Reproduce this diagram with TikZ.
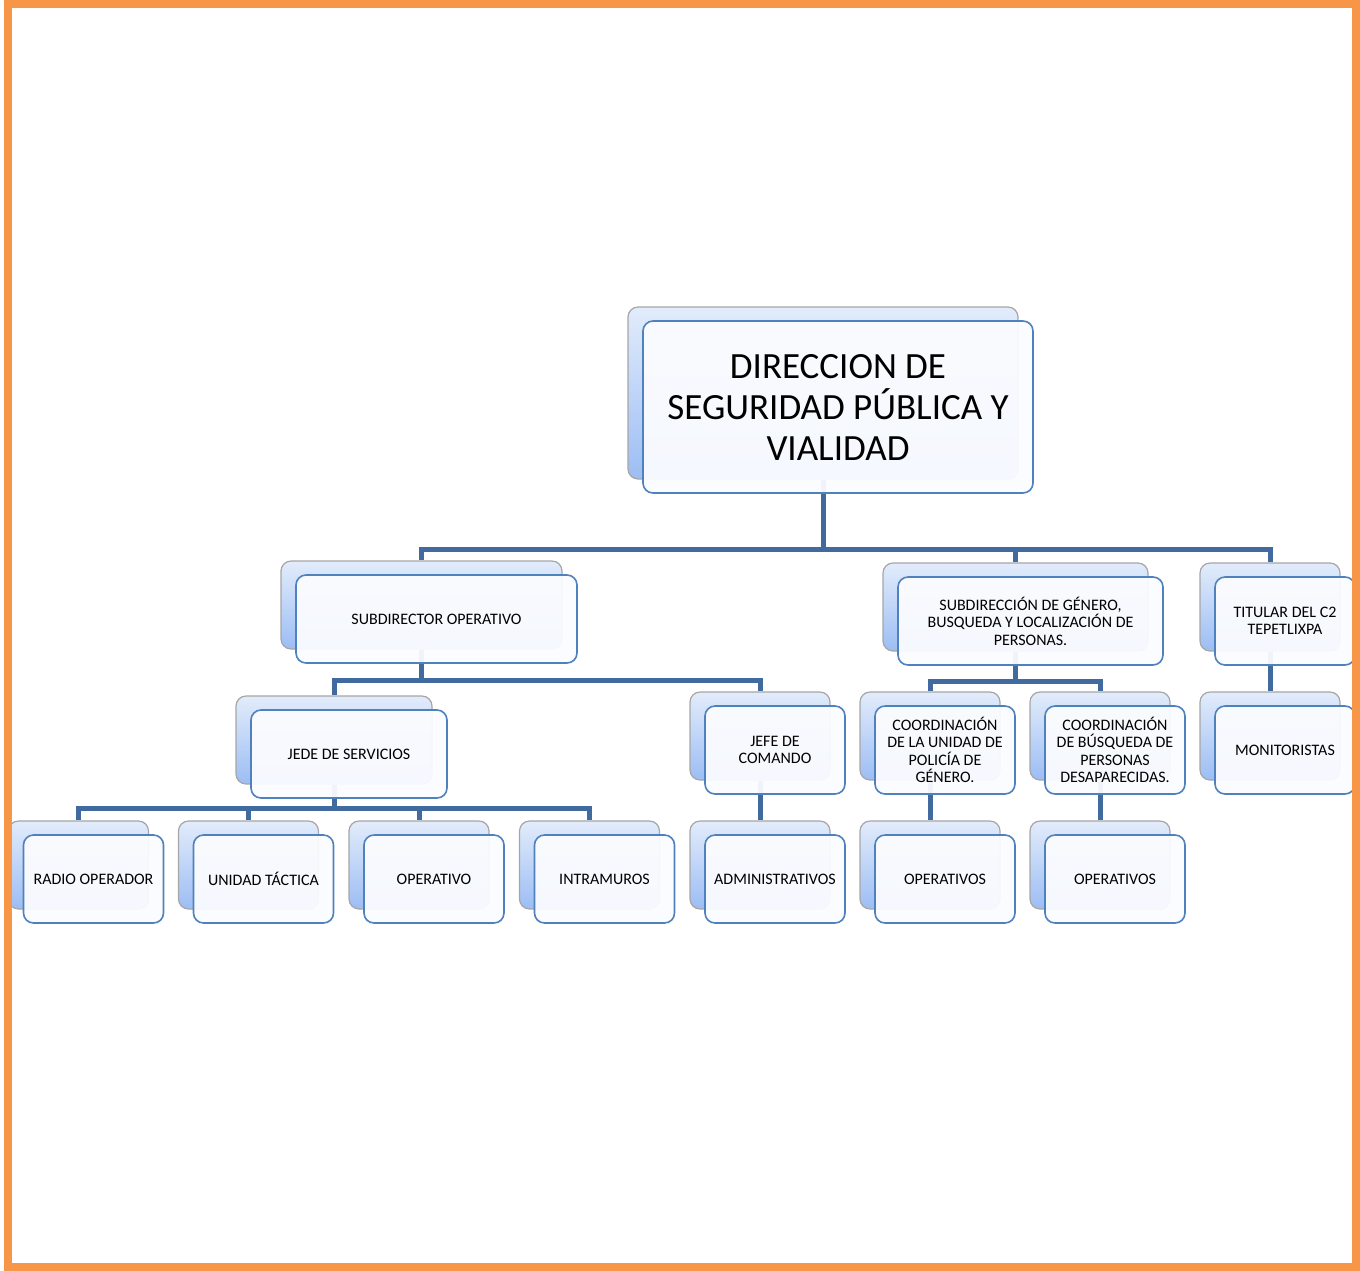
\documentclass[tikz,border=0pt]{standalone}
\usepackage{fontspec}
\setmainfont{Carlito}
\usetikzlibrary{backgrounds}
\definecolor{borderorange}{RGB}{247,150,70}
\definecolor{linkblue}{RGB}{65,106,158}
\definecolor{frameblue}{RGB}{79,129,189}
\definecolor{backtop}{RGB}{226,236,251}
\definecolor{backbot}{RGB}{156,189,244}
\definecolor{frontfill}{RGB}{251,252,255}
\tikzset{
  backbox/.style={draw=gray!70, line width=1.2pt, rounded corners=10pt,
    top color=backtop, bottom color=backbot, inner sep=0pt},
  frontbox/.style={draw=frameblue, line width=1.6pt, rounded corners=10pt,
    fill=frontfill, fill opacity=0.94, text opacity=1, inner sep=2pt,
    align=center, font=\fontsize{16}{17.4}\selectfont},
  bigtext/.style={font=\fontsize{37}{41}\selectfont},
  link/.style={draw=linkblue, line width=5pt},
}
\newcommand\orgnode[7][]{%
  \node[backbox, minimum width=#5pt, minimum height=#6pt] (#2b) at ({#3-15},{#4-14}) {};
  \node[frontbox, minimum width=#5pt, minimum height=#6pt, #1] (#2) at (#3,#4) {#7};
}
\begin{document}
\begin{tikzpicture}[x=1pt,y=-1pt]
\useasboundingbox (0,0) rectangle (1360,1270);
\orgnode[bigtext]{top}{838}{407}{390}{172}{DIRECCION DE\\ SEGURIDAD PÚBLICA Y\\ VIALIDAD}
\orgnode{subop}{436.5}{619}{281}{88}{SUBDIRECTOR OPERATIVO}
\orgnode{subgen}{1030.5}{621}{265}{88}{SUBDIRECCIÓN DE GÉNERO,\\ BUSQUEDA Y LOCALIZACIÓN DE\\ PERSONAS.}
\orgnode{titular}{1285}{621}{140}{88}{TITULAR DEL C2\\ TEPETLIXPA}
\orgnode{jede}{349}{754}{196}{88}{JEDE DE SERVICIOS}
\orgnode{jefe}{775}{750}{140}{88}{JEFE DE\\ COMANDO}
\orgnode{cpol}{945}{750}{140}{88}{COORDINACIÓN\\ DE LA UNIDAD DE\\ POLICÍA DE\\ GÉNERO.}
\orgnode{cbus}{1115}{750}{140}{88}{COORDINACIÓN\\ DE BÚSQUEDA DE\\ PERSONAS\\ DESAPARECIDAS.}
\orgnode{monit}{1285}{750}{140}{88}{MONITORISTAS}
\orgnode{radio}{93.5}{879}{140}{88}{RADIO OPERADOR}
\orgnode{unidad}{263.5}{879}{140}{88}{UNIDAD TÁCTICA}
\orgnode{oper}{434}{879}{140}{88}{OPERATIVO}
\orgnode{intra}{604.5}{879}{140}{88}{INTRAMUROS}
\orgnode{admin}{775}{879}{140}{88}{ADMINISTRATIVOS}
\orgnode{opsa}{945}{879}{140}{88}{OPERATIVOS}
\orgnode{opsb}{1115}{879}{140}{88}{OPERATIVOS}
\begin{scope}[on background layer]
  \path[link] (topb.south) -- ++(0,70) -| (subopb.north);
  \path[link] (topb.south) -- ++(0,70) -| (subgenb.north);
  \path[link] (topb.south) -- ++(0,70) -| (titularb.north);
  \path[link] (subopb.south) -- ++(0,31) -| (jedeb.north);
  \path[link] (subopb.south) -- ++(0,31) -| (jefeb.north);
  \path[link] (subgenb.south) -- ++(0,30) -| (cpolb.north);
  \path[link] (subgenb.south) -- ++(0,30) -| (cbusb.north);
  \path[link] (titularb.south) -- (monitb.north);
  \path[link] (jedeb.south) -- ++(0,24) -| (radiob.north);
  \path[link] (jedeb.south) -- ++(0,24) -| (unidadb.north);
  \path[link] (jedeb.south) -- ++(0,24) -| (operb.north);
  \path[link] (jedeb.south) -- ++(0,24) -| (intrab.north);
  \path[link] (jefeb.south) -- (adminb.north);
  \path[link] (cpolb.south) -- (opsab.north);
  \path[link] (cbusb.south) -- (opsbb.north);
\end{scope}
\draw[borderorange, line width=8pt] (8,4) rectangle (1356,1267);
\end{tikzpicture}
\end{document}
